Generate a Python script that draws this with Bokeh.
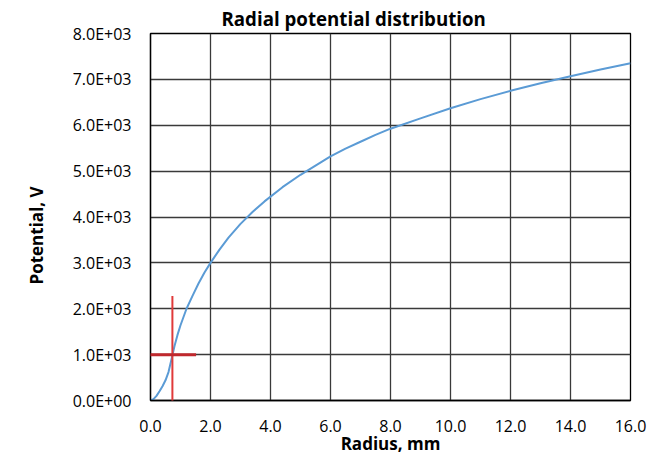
from bokeh.plotting import figure
from bokeh.models import Range1d, FixedTicker, Arrow, Title
from bokeh.embed import file_html
from bokeh.resources import INLINE

# curve data
radius_mm = [0, 0.1, 0.2, 0.3, 0.4, 0.5, 0.6, 0.7, 0.8, 0.9, 1.0, 1.2, 1.4, 1.6, 1.8,
             2.0, 2.3, 2.6, 3.0, 3.4, 3.8, 4.4, 5.0, 5.5, 6.0, 6.5, 7.0, 7.5, 8.0, 9.0, 10.0,
             11.0, 12.0, 13.0, 14.0, 15.0, 16.0]
potential_v = [0, 30, 100, 200, 310, 440, 620, 900, 1190, 1430, 1640, 2000, 2280, 2550, 2790,
               3000, 3290, 3550, 3850, 4110, 4340, 4650, 4920, 5120, 5320, 5490, 5640, 5790, 5925,
               6150, 6370, 6570, 6750, 6915, 7070, 7215, 7350]

# crosshair marker
cross_x = 0.73
cross_y = 1000
cross_v_span = [-200, 2280]
cross_h_span = [-0.31, 1.52]

x_ticks = [0, 2, 4, 6, 8, 10, 12, 14, 16]
x_tick_labels = ["0.0", "2.0", "4.0", "6.0", "8.0", "10.0", "12.0", "14.0", "16.0"]
y_ticks = [0, 1000, 2000, 3000, 4000, 5000, 6000, 7000, 8000]
y_tick_labels = ["0.0E+00", "1.0E+03", "2.0E+03", "3.0E+03", "4.0E+03",
                 "5.0E+03", "6.0E+03", "7.0E+03", "8.0E+03"]

FONT = "Open Sans"

p = figure(width=667, height=458, output_backend="svg", toolbar_location=None,
           x_range=Range1d(0, 16), y_range=Range1d(0, 8000),
           min_border_left=150, min_border_right=37, min_border_top=32, min_border_bottom=58,
           title="Radial potential distribution")

p.title.align = "left"
p.title.offset = 71
p.title.standoff = 6
p.title.text_font = FONT
p.title.text_font_size = "18.7px"
p.title.text_font_style = "bold"
p.title.text_color = "black"

p.outline_line_color = "black"
p.outline_line_width = 1.3
p.background_fill_color = "white"
p.border_fill_color = "white"

for ax in (p.xaxis[0], p.yaxis[0]):
    ax.axis_line_color = "black"
    ax.axis_line_width = 1.3
    ax.major_tick_line_color = None
    ax.minor_tick_line_color = None
    ax.major_tick_out = 0
    ax.major_tick_in = 0
    ax.major_label_text_font = FONT
    ax.major_label_text_font_size = "16px"
    ax.major_label_text_color = "black"
    ax.axis_label_text_font = FONT
    ax.axis_label_text_font_size = "17px"
    ax.axis_label_text_font_style = "bold"
    ax.axis_label_text_color = "black"

p.xaxis.ticker = FixedTicker(ticks=x_ticks)
p.xaxis.major_label_overrides = dict(zip(x_ticks, x_tick_labels))
p.yaxis.ticker = FixedTicker(ticks=y_ticks)
p.yaxis.major_label_overrides = dict(zip(y_ticks, y_tick_labels))
p.xaxis.axis_label = "Radius, mm"
p.xaxis.major_label_standoff = 19
p.xaxis.axis_label_standoff = -3
p.yaxis.major_label_standoff = 19

p.add_layout(Title(text="Potential, V", align="left", offset=116, standoff=44,
                   text_font=FONT, text_font_size="17px", text_font_style="bold",
                   text_color="black"), "left")

p.xgrid.ticker = FixedTicker(ticks=x_ticks)
p.ygrid.ticker = FixedTicker(ticks=y_ticks)
for g in (p.xgrid[0], p.ygrid[0]):
    g.grid_line_color = "#3a3a3a"
    g.grid_line_width = 1.3

p.line(radius_mm, potential_v, line_color="#5b9bd5", line_width=2)

p.add_layout(Arrow(end=None, x_start=cross_x, x_end=cross_x,
                   y_start=cross_v_span[0], y_end=cross_v_span[1],
                   line_color="#e03a3a", line_width=2))
p.add_layout(Arrow(end=None, x_start=cross_h_span[0], x_end=cross_h_span[1],
                   y_start=cross_y, y_end=cross_y,
                   line_color="#c0282d", line_width=3))

open("out.html", "w").write(file_html(p, INLINE))
